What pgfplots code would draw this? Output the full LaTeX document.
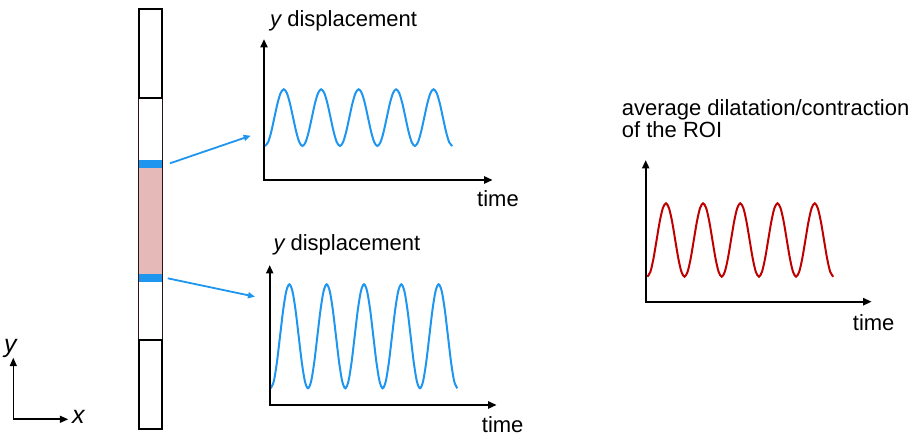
\documentclass[border=0pt]{standalone}
\usepackage{pgfplots}
\pgfplotsset{compat=1.18}
\usepackage{pgfplotstable}
\usetikzlibrary{arrows.meta}
\usepackage{fontspec}
\setmainfont{Liberation Sans}
\definecolor{wblue}{RGB}{30,150,240}
\definecolor{wred}{RGB}{190,0,0}
\definecolor{pinkc}{RGB}{230,185,185}
\definecolor{thinb}{RGB}{45,20,20}
\newcommand\lab{\fontsize{22}{26}\selectfont}
\newcommand\biglab{\fontsize{25}{30}\selectfont\itshape}

% k = time step (1/12 period); top, bot, right = displacement (arbitrary units)
\pgfplotstableread{
k top bot right
0 34.00 16.70 25.00
1 37.80 23.67 29.92
2 48.18 42.70 43.35
3 62.35 68.70 61.70
4 76.53 94.70 80.05
5 86.90 113.73 93.48
6 90.70 120.70 98.40
7 86.90 113.73 93.48
8 76.53 94.70 80.05
9 62.35 68.70 61.70
10 48.18 42.70 43.35
11 37.80 23.67 29.92
12 34.00 16.70 25.00
13 37.80 23.67 29.92
14 48.18 42.70 43.35
15 62.35 68.70 61.70
16 76.53 94.70 80.05
17 86.90 113.73 93.48
18 90.70 120.70 98.40
19 86.90 113.73 93.48
20 76.53 94.70 80.05
21 62.35 68.70 61.70
22 48.18 42.70 43.35
23 37.80 23.67 29.92
24 34.00 16.70 25.00
25 37.80 23.67 29.92
26 48.18 42.70 43.35
27 62.35 68.70 61.70
28 76.53 94.70 80.05
29 86.90 113.73 93.48
30 90.70 120.70 98.40
31 86.90 113.73 93.48
32 76.53 94.70 80.05
33 62.35 68.70 61.70
34 48.18 42.70 43.35
35 37.80 23.67 29.92
36 34.00 16.70 25.00
37 37.80 23.67 29.92
38 48.18 42.70 43.35
39 62.35 68.70 61.70
40 76.53 94.70 80.05
41 86.90 113.73 93.48
42 90.70 120.70 98.40
43 86.90 113.73 93.48
44 76.53 94.70 80.05
45 62.35 68.70 61.70
46 48.18 42.70 43.35
47 37.80 23.67 29.92
48 34.00 16.70 25.00
49 37.80 23.67 29.92
50 48.18 42.70 43.35
51 62.35 68.70 61.70
52 76.53 94.70 80.05
53 86.90 113.73 93.48
54 90.70 120.70 98.40
55 86.90 113.73 93.48
56 76.53 94.70 80.05
57 62.35 68.70 61.70
58 48.18 42.70 43.35
59 37.80 23.67 29.92
60 34.00 16.70 25.00
}\waves

\tikzset{tri/.tip={Triangle[length=8.5pt,width=7pt]}}

\begin{document}
\begin{tikzpicture}[x=1pt,y=1pt]
\useasboundingbox (0,0) rectangle (916,438);

% strip
\fill[pinkc] (138.7,438-274) rectangle (162.3,438-167.7);
\fill[wblue] (138.7,438-167.7) rectangle (162.3,438-160);
\fill[wblue] (138.7,438-281.7) rectangle (162.3,438-274);
\draw[thinb, line width=1.4pt] (138.7,438-98.5) rectangle (162.3,438-340);
\draw[line width=2pt] (138.7,438-9) rectangle (162.3,438-98.5);
\draw[line width=2pt] (138.7,438-340) rectangle (162.3,438-429);

% connecting arrows
\draw[wblue, line width=1.8pt, -{Triangle[length=7pt,width=6pt]}] (170,438-163.3) -- (250.7,438-135.7);
\draw[wblue, line width=1.8pt, -{Triangle[length=7pt,width=6pt]}] (167.7,438-278.3) -- (255,438-296.7);

% coordinate system
\draw[line width=1.6pt, tri-tri] (13.3,438-357.7) -- (13.3,438-419.3) -- (68.3,438-419.3);
\node[font=\biglab, anchor=base west, inner sep=0] at (4,438-353) {y};
\node[font=\biglab, anchor=base west, inner sep=0] at (72,438-423.3) {x};

% top plot
\begin{axis}[at={(264pt,258pt)}, anchor=south west, scale only axis,
  width=228.7pt, height=141pt, xmin=-0.32, xmax=72.94, ymin=0, ymax=141,
  hide axis, clip=false]
\addplot[wblue, line width=2pt, smooth, no markers] table[x=k,y=top] {\waves};
\draw[line width=2.2pt, tri-tri] (rel axis cs:0,1) -- (rel axis cs:0,0) -- (rel axis cs:1,0);
\end{axis}
\node[font=\lab, anchor=base west, inner sep=0] at (270,438-26.5) {{\itshape y} displacement};
\node[font=\lab, anchor=base west, inner sep=0] at (477,438-207) {time};

% bottom plot
\begin{axis}[at={(269.7pt,33pt)}, anchor=south west, scale only axis,
  width=227pt, height=140pt, xmin=-0.32, xmax=72.67, ymin=0, ymax=140,
  hide axis, clip=false]
\addplot[wblue, line width=2pt, smooth, no markers] table[x=k,y=bot] {\waves};
\draw[line width=2.2pt, tri-tri] (rel axis cs:0,1) -- (rel axis cs:0,0) -- (rel axis cs:1,0);
\end{axis}
\node[font=\lab, anchor=base west, inner sep=0] at (273.3,438-250.7) {{\itshape y} displacement};
\node[font=\lab, anchor=base west, inner sep=0] at (481.7,438-433) {time};

% right plot
\begin{axis}[at={(645.7pt,136.3pt)}, anchor=south west, scale only axis,
  width=226pt, height=141.7pt, xmin=-0.52, xmax=72.39, ymin=0, ymax=141.7,
  hide axis, clip=false]
\addplot[wred, line width=2pt, smooth, no markers] table[x=k,y=right] {\waves};
\draw[line width=2.2pt, tri-tri] (rel axis cs:0,1) -- (rel axis cs:0,0) -- (rel axis cs:1,0);
\end{axis}
\node[font=\lab, anchor=base west, inner sep=0] at (621.7,438-116) {average dilatation/contraction};
\node[font=\lab, anchor=base west, inner sep=0] at (621.7,438-137.3) {of the ROI};
\node[font=\lab, anchor=base west, inner sep=0] at (852.7,438-330.5) {time};

\end{tikzpicture}
\end{document}
